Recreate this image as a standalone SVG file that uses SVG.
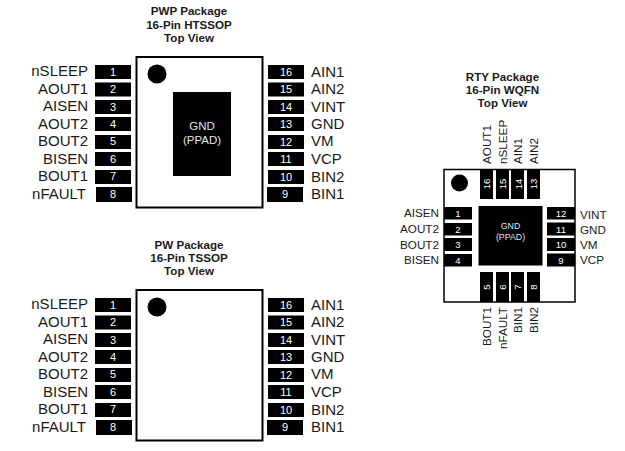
<svg xmlns="http://www.w3.org/2000/svg" width="625" height="451" viewBox="0 0 625 451">
<style>
text{font-family:"Liberation Sans",Arial,sans-serif;fill:#1a1a1a}
.t{font-size:11.6px;font-weight:bold;text-anchor:middle}
.l{font-size:15px}
.e{text-anchor:end}
.s{font-size:11.7px}
.n{font-size:11px;fill:#fff;text-anchor:middle}
.m{font-size:9.5px;fill:#fff;text-anchor:middle}
.p{font-size:11.5px;fill:#dfe6f0;text-anchor:middle}
.q{font-size:8.8px;fill:#dfe6f0;text-anchor:middle}
.b{fill:#fff;stroke:#000;stroke-width:2}
rect.k{fill:#000}
</style>
<rect width="625" height="451" fill="#fff"/>
<g id="pwp">
<text class="t" x="189" y="15">PWP Package</text><text class="t" x="189" y="28.500">16-Pin HTSSOP</text><text class="t" x="189" y="42">Top View</text>
<rect class="b" x="136.500" y="57" width="126" height="150.500"/>
<circle cx="157" cy="74" r="9.500"/>
<rect class="k" x="173" y="92" width="58" height="84"/>
<text class="p" x="202" y="130">GND</text><text class="p" x="202" y="144">(PPAD)</text>
<g id="pwp-left">
<rect class="k" x="95" y="65" width="36" height="14"/><text class="n" x="113" y="76">1</text><text class="l e" x="88" y="76">nSLEEP</text>
<rect class="k" x="95" y="82.500" width="36" height="14"/><text class="n" x="113" y="93">2</text><text class="l e" x="88" y="94">AOUT1</text>
<rect class="k" x="95" y="100" width="36" height="14"/><text class="n" x="113" y="111">3</text><text class="l e" x="88" y="111">AISEN</text>
<rect class="k" x="95" y="117" width="36" height="14"/><text class="n" x="113" y="128">4</text><text class="l e" x="88" y="129">AOUT2</text>
<rect class="k" x="95" y="135" width="36" height="14"/><text class="n" x="113" y="145">5</text><text class="l e" x="88" y="146">BOUT2</text>
<rect class="k" x="95" y="152" width="36" height="14"/><text class="n" x="113" y="163">6</text><text class="l e" x="88" y="164">BISEN</text>
<rect class="k" x="95" y="170" width="36" height="14"/><text class="n" x="113" y="180">7</text><text class="l e" x="88" y="181">BOUT1</text>
<rect class="k" x="96" y="187" width="36" height="15"/><text class="n" x="113" y="198">8</text><text class="l e" x="86" y="199">nFAULT</text>
</g>
<g id="pwp-right">
<rect class="k" x="268" y="65" width="36" height="14"/><text class="n" x="286" y="76">16</text><text class="l" x="311" y="77">AIN1</text>
<rect class="k" x="268" y="82.500" width="36" height="14"/><text class="n" x="286" y="93">15</text><text class="l" x="311" y="94">AIN2</text>
<rect class="k" x="268" y="100" width="36" height="14"/><text class="n" x="286" y="111">14</text><text class="l" x="311" y="112">VINT</text>
<rect class="k" x="268" y="117" width="36" height="14"/><text class="n" x="286" y="128">13</text><text class="l" x="311" y="129">GND</text>
<rect class="k" x="268" y="135" width="36" height="14"/><text class="n" x="286" y="146">12</text><text class="l" x="311" y="146">VM</text>
<rect class="k" x="268" y="152" width="36" height="14"/><text class="n" x="286" y="163">11</text><text class="l" x="311" y="164">VCP</text>
<rect class="k" x="268" y="170" width="36" height="14"/><text class="n" x="286" y="181">10</text><text class="l" x="311" y="182">BIN2</text>
<rect class="k" x="267" y="187" width="36" height="15"/><text class="n" x="285" y="198">9</text><text class="l" x="311" y="199">BIN1</text>
</g>
</g>
<g id="pw">
<text class="t" x="189" y="249">PW Package</text><text class="t" x="189" y="262">16-Pin TSSOP</text><text class="t" x="189" y="275">Top View</text>
<rect class="b" x="136.500" y="290" width="126" height="150.500"/>
<circle cx="157" cy="307" r="9.500"/>
<g id="pw-left">
<rect class="k" x="95" y="298" width="36" height="14"/><text class="n" x="113" y="309">1</text><text class="l e" x="88" y="309">nSLEEP</text>
<rect class="k" x="95" y="315.500" width="36" height="14"/><text class="n" x="113" y="326">2</text><text class="l e" x="88" y="327">AOUT1</text>
<rect class="k" x="95" y="333" width="36" height="14"/><text class="n" x="113" y="344">3</text><text class="l e" x="88" y="344">AISEN</text>
<rect class="k" x="95" y="350" width="36" height="14"/><text class="n" x="113" y="361">4</text><text class="l e" x="88" y="362">AOUT2</text>
<rect class="k" x="95" y="368" width="36" height="14"/><text class="n" x="113" y="378">5</text><text class="l e" x="88" y="379">BOUT2</text>
<rect class="k" x="95" y="385" width="36" height="14"/><text class="n" x="113" y="396">6</text><text class="l e" x="88" y="397">BISEN</text>
<rect class="k" x="95" y="403" width="36" height="14"/><text class="n" x="113" y="413">7</text><text class="l e" x="88" y="414">BOUT1</text>
<rect class="k" x="96" y="420" width="36" height="15"/><text class="n" x="113" y="431">8</text><text class="l e" x="86" y="432">nFAULT</text>
</g>
<g id="pw-right">
<rect class="k" x="268" y="298" width="36" height="14"/><text class="n" x="286" y="309">16</text><text class="l" x="311" y="310">AIN1</text>
<rect class="k" x="268" y="315.500" width="36" height="14"/><text class="n" x="286" y="326">15</text><text class="l" x="311" y="327">AIN2</text>
<rect class="k" x="268" y="333" width="36" height="14"/><text class="n" x="286" y="344">14</text><text class="l" x="311" y="345">VINT</text>
<rect class="k" x="268" y="350" width="36" height="14"/><text class="n" x="286" y="361">13</text><text class="l" x="311" y="362">GND</text>
<rect class="k" x="268" y="368" width="36" height="14"/><text class="n" x="286" y="379">12</text><text class="l" x="311" y="379">VM</text>
<rect class="k" x="268" y="385" width="36" height="14"/><text class="n" x="286" y="396">11</text><text class="l" x="311" y="397">VCP</text>
<rect class="k" x="268" y="403" width="36" height="14"/><text class="n" x="286" y="414">10</text><text class="l" x="311" y="415">BIN2</text>
<rect class="k" x="267" y="420" width="36" height="15"/><text class="n" x="285" y="431">9</text><text class="l" x="311" y="432">BIN1</text>
</g>
</g>
<g id="rty">
<text class="t" x="502.500" y="81">RTY Package</text><text class="t" x="502.500" y="94">16-Pin WQFN</text><text class="t" x="502.500" y="107">Top View</text>
<rect x="444" y="169.500" width="131" height="132.500" fill="#fff" stroke="#000" stroke-width="1.500"/>
<circle cx="459.500" cy="183" r="8.500"/>
<rect class="k" x="478.500" y="206" width="64" height="59.500"/>
<text class="q" x="510.500" y="229">GND</text><text class="q" x="510.500" y="240">(PPAD)</text>
<g id="rty-top">
<rect class="k" x="480" y="169" width="13" height="30"/><text class="m" transform="translate(490,184) rotate(-90)">16</text><text class="s" transform="translate(491,164) rotate(-90)">AOUT1</text>
<rect class="k" x="496" y="169" width="13" height="30"/><text class="m" transform="translate(506,184) rotate(-90)">15</text><text class="s" transform="translate(507,164) rotate(-90)">nSLEEP</text>
<rect class="k" x="511" y="169" width="13" height="30"/><text class="m" transform="translate(521.500,184) rotate(-90)">14</text><text class="s" transform="translate(522,164) rotate(-90)">AIN1</text>
<rect class="k" x="527" y="169" width="13" height="30"/><text class="m" transform="translate(537,184) rotate(-90)">13</text><text class="s" transform="translate(538,164) rotate(-90)">AIN2</text>
</g>
<g id="rty-bottom">
<rect class="k" x="480" y="272" width="13" height="30"/><text class="m" transform="translate(490,287) rotate(-90)">5</text><text class="s e" transform="translate(491,307) rotate(-90)">BOUT1</text>
<rect class="k" x="496" y="272" width="13" height="30"/><text class="m" transform="translate(506,287) rotate(-90)">6</text><text class="s e" transform="translate(507,307) rotate(-90)">nFAULT</text>
<rect class="k" x="511" y="272" width="13" height="30"/><text class="m" transform="translate(521,287) rotate(-90)">7</text><text class="s e" transform="translate(522,307) rotate(-90)">BIN1</text>
<rect class="k" x="527" y="272" width="13" height="30"/><text class="m" transform="translate(537,287) rotate(-90)">8</text><text class="s e" transform="translate(538,307) rotate(-90)">BIN2</text>
</g>
<g id="rty-left">
<rect class="k" x="444" y="207" width="28" height="12.500"/><text class="m" x="458" y="217">1</text><text class="s e" x="439" y="217">AISEN</text>
<rect class="k" x="444" y="223" width="28" height="12.500"/><text class="m" x="458" y="233">2</text><text class="s e" x="439" y="233">AOUT2</text>
<rect class="k" x="444" y="238" width="28" height="13"/><text class="m" x="458" y="248">3</text><text class="s e" x="439" y="249">BOUT2</text>
<rect class="k" x="444" y="254" width="28" height="12.500"/><text class="m" x="458" y="264">4</text><text class="s e" x="439" y="264">BISEN</text>
</g>
<g id="rty-right">
<rect class="k" x="547" y="207" width="28" height="12.500"/><text class="m" x="561" y="217">12</text><text class="s" x="580" y="219">VINT</text>
<rect class="k" x="547" y="222.500" width="28" height="13"/><text class="m" x="561" y="233">11</text><text class="s" x="580" y="234">GND</text>
<rect class="k" x="547" y="238" width="28" height="13"/><text class="m" x="561" y="248">10</text><text class="s" x="580" y="249">VM</text>
<rect class="k" x="547" y="253.500" width="28" height="13"/><text class="m" x="561" y="264">9</text><text class="s" x="580" y="264">VCP</text>
</g>
</g>
</svg>
